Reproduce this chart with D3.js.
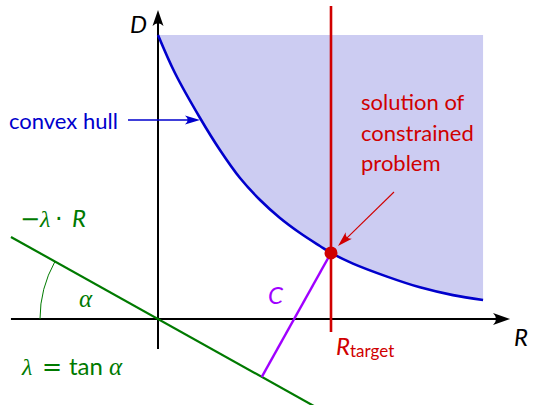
<!DOCTYPE html>
<html>
<head>
<meta charset="utf-8">
<script src="https://cdn.jsdelivr.net/npm/d3@7"></script>
<style>
  html, body { margin: 0; padding: 0; background: #fff; }
  svg { display: block; }
  .sans { font-family: Lato, "Open Sans", sans-serif; }
  .math { font-family: "Liberation Serif", serif; font-style: italic; }
  .op { font-family: "DejaVu Sans", sans-serif; }
</style>
</head>
<body>
<svg id="chart" width="533" height="405"></svg>
<script>
// Boundary of the achievable (R, D) region (lower convex hull)
const hullR = [0, 0.098, 0.243, 0.358, 0.474, 0.590, 0.705, 0.821, 0.936, 1.0, 1.127, 1.324, 1.514, 1.705, 1.879];
const hullD = [1.642, 1.422, 1.162, 0.977, 0.815, 0.688, 0.584, 0.497, 0.422, 0.382, 0.320, 0.245, 0.183, 0.138, 0.110];

// Rate constraint and Lagrangian slope
const rTarget = 1.0;
const lambda = 0.558;              // λ = tan α

// Axis extents (data units)
const rAxis = [-0.85, 2.035];
const dAxis = [-0.173, 1.786];
const regionTop = 1.642;
const targetLine = [-0.075, 1.809];
const lagrangeR = [-0.85, 1.2];

const x = d3.scaleLinear().domain([0, 1]).range([158, 331]);
const y = d3.scaleLinear().domain([0, 1]).range([319, 146]);

const svg = d3.select("#chart");

const BLUE = "#0000cc", FILL = "#ccccf2", RED = "#d00000",
      GREEN = "#007a00", PURPLE = "#a000ff";

const hull = hullR.map((r, i) => [r, hullD[i]]);

// smooth hull path, reused for the shaded region and the boundary stroke
const hullLine = d3.line().x(d => x(d[0])).y(d => y(d[1])).curve(d3.curveCatmullRom.alpha(0.5));
const hullPathStr = hullLine(hull);
const rEnd = hullR[hullR.length - 1];
svg.append("path")
  .attr("d", hullPathStr + `L${x(rEnd)},${y(regionTop)}L${x(hullR[0])},${y(regionTop)}Z`)
  .attr("fill", FILL)
  .attr("stroke", "none");

// arrowhead helper (LaTeX-style, concave back)
function arrowHead(tipX, tipY, angle, len, halfW, color) {
  const p = d3.path();
  p.moveTo(0, 0);
  p.lineTo(-len, -halfW);
  p.quadraticCurveTo(-len * 0.65, 0, -len, halfW);
  p.closePath();
  svg.append("path")
    .attr("d", p.toString())
    .attr("fill", color)
    .attr("transform", `translate(${tipX},${tipY}) rotate(${angle})`);
}

// axes
svg.append("line")
  .attr("x1", x(rAxis[0])).attr("y1", y(0))
  .attr("x2", x(rAxis[1]) - 8).attr("y2", y(0))
  .attr("stroke", "#000").attr("stroke-width", 2);
arrowHead(x(rAxis[1]), y(0), 0, 17, 6, "#000");
svg.append("line")
  .attr("x1", x(0)).attr("y1", y(dAxis[0]))
  .attr("x2", x(0)).attr("y2", y(dAxis[1]) + 8)
  .attr("stroke", "#000").attr("stroke-width", 2);
arrowHead(x(0), y(dAxis[1]), -90, 16, 5.5, "#000");

// Lagrangian line D = -λ·R
svg.append("line")
  .attr("x1", x(lagrangeR[0])).attr("y1", y(-lambda * lagrangeR[0]))
  .attr("x2", x(lagrangeR[1])).attr("y2", y(-lambda * lagrangeR[1]))
  .attr("stroke", GREEN).attr("stroke-width", 2.2);

// angle arc α
const alpha = Math.atan(lambda);
const arcR = 118;
const arcPath = d3.path();
arcPath.arc(x(0), y(0), arcR, Math.PI + alpha, Math.PI, true);
svg.append("path")
  .attr("d", arcPath.toString())
  .attr("fill", "none").attr("stroke", GREEN).attr("stroke-width", 1);

// hull curve
svg.append("path")
  .attr("d", hullPathStr)
  .attr("fill", "none").attr("stroke", BLUE).attr("stroke-width", 2.6);

// solution point on the hull at R = R_target
const solIdx = hullR.indexOf(rTarget);
const sol = [hullR[solIdx], hullD[solIdx]];

// C: perpendicular from solution point to the Lagrangian line
const ux = 1 / Math.hypot(1, lambda), uy = -lambda / Math.hypot(1, lambda);
const proj = sol[0] * ux + sol[1] * uy;
const foot = [proj * ux, proj * uy];
svg.append("line")
  .attr("x1", x(sol[0])).attr("y1", y(sol[1]))
  .attr("x2", x(foot[0])).attr("y2", y(foot[1]))
  .attr("stroke", PURPLE).attr("stroke-width", 2.4);

// R_target constraint line
svg.append("line")
  .attr("x1", x(rTarget)).attr("y1", y(targetLine[0]))
  .attr("x2", x(rTarget)).attr("y2", y(targetLine[1]))
  .attr("stroke", RED).attr("stroke-width", 2.6);

svg.append("circle")
  .attr("cx", x(sol[0])).attr("cy", y(sol[1])).attr("r", 6.5)
  .attr("fill", RED);

// annotation arrows
svg.append("line")
  .attr("x1", 128).attr("y1", 120).attr("x2", 188).attr("y2", 120)
  .attr("stroke", BLUE).attr("stroke-width", 1.3);
arrowHead(200, 120, 0, 15, 4.5, BLUE);

const ax0 = [394, 192], ax1 = [x(sol[0]) + 7, y(sol[1]) - 7];
const ang = Math.atan2(ax1[1] - ax0[1], ax1[0] - ax0[0]) * 180 / Math.PI;
svg.append("line")
  .attr("x1", ax0[0]).attr("y1", ax0[1])
  .attr("x2", ax1[0] + 8).attr("y2", ax1[1] - 7)
  .attr("stroke", RED).attr("stroke-width", 1.1);
arrowHead(ax1[0], ax1[1], ang, 15, 4.5, RED);

// labels
svg.append("text").attr("class", "sans").attr("x", 130).attr("y", 33)
  .attr("font-size", 24).attr("font-style", "italic").text("D");
svg.append("text").attr("class", "sans").attr("x", 514).attr("y", 346)
  .attr("font-size", 24).attr("font-style", "italic").text("R");

svg.append("text").attr("class", "sans").attr("x", 9).attr("y", 129)
  .attr("font-size", 22).attr("fill", BLUE).text("convex hull");

const solLines = ["solution of", "constrained", "problem"];
svg.append("text").attr("class", "sans").attr("x", 361).attr("y", 110)
  .attr("font-size", 22).attr("fill", RED)
  .selectAll("tspan").data(solLines).join("tspan")
  .attr("x", 361).attr("dy", (d, i) => i === 0 ? 0 : 30.5).text(d => d);

// −λ · R  (math spacing around the operator)
const t1 = svg.append("text").attr("y", 227).attr("font-size", 24).attr("fill", GREEN);
t1.append("tspan").attr("class", "op").attr("x", 20).text("\u2212");
t1.append("tspan").attr("class", "math").attr("x", 40).text("\u03bb");
t1.append("tspan").attr("class", "op").attr("x", 55).text("\u00b7");
t1.append("tspan").attr("class", "sans").attr("font-style", "italic").attr("x", 72).text("R");

svg.append("text").attr("class", "math").attr("x", 79).attr("y", 307)
  .attr("font-size", 25).attr("fill", GREEN).text("\u03b1");

// λ = tan α
const t2 = svg.append("text").attr("y", 375).attr("font-size", 24).attr("fill", GREEN);
t2.append("tspan").attr("class", "math").attr("x", 22).text("\u03bb");
t2.append("tspan").attr("class", "op").attr("x", 42).text("=");
t2.append("tspan").attr("class", "sans").attr("x", 69).text("tan");
t2.append("tspan").attr("class", "math").attr("x", 109).attr("font-size", 25).text("\u03b1");

svg.append("text").attr("class", "sans").attr("x", 268).attr("y", 304)
  .attr("font-size", 24).attr("font-style", "italic").attr("fill", PURPLE).text("C");

const t3 = svg.append("text").attr("x", 336).attr("y", 355).attr("fill", RED);
t3.append("tspan").attr("class", "sans").attr("font-size", 24)
  .attr("font-style", "italic").text("R");
t3.append("tspan").attr("class", "sans").attr("font-size", 17)
  .attr("dy", 2).text("target");
</script>
</body>
</html>
